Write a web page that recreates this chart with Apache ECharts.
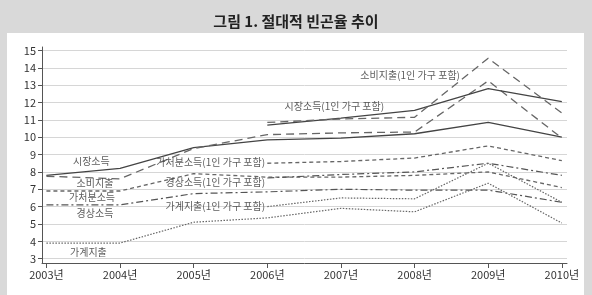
<!DOCTYPE html>
<html>
<head>
<meta charset="utf-8">
<script src="https://cdn.jsdelivr.net/npm/echarts/dist/echarts.min.js"></script>
<style>
  html, body { margin: 0; padding: 0; background: #d9d9d9; }
  #chart { width: 592px; height: 295px; }
</style>
</head>
<body>
<div id="chart"></div>
<script>
// years
const years = [2003, 2004, 2005, 2006, 2007, 2008, 2009, 2010];
const years1p = [2006, 2007, 2008, 2009, 2010];
const yTicks = [3, 4, 5, 6, 7, 8, 9, 10, 11, 12, 13, 14, 15];

// 빈곤율 (%) - 1인 가구 제외
const market = [7.8, 8.2, 9.4, 9.85, 9.95, 10.2, 10.85, 10.0];
const consumption = [7.75, 7.6, 9.35, 10.15, 10.25, 10.3, 13.25, 9.95];
const disposable = [6.9, 6.9, 7.9, 7.7, 7.7, 7.8, 8.0, 7.1];
const current = [6.1, 6.1, 6.75, 6.85, 7.0, 6.95, 6.95, 6.25];
const household = [3.9, 3.9, 5.1, 5.35, 5.9, 5.7, 7.35, 5.05];

// 1인 가구 포함
const market1p = [10.7, 11.1, 11.55, 12.8, 12.05];
const consumption1p = [10.85, 11.05, 11.15, 14.55, 11.4];
const disposable1p = [8.5, 8.6, 8.8, 9.5, 8.65];
const current1p = [7.65, 7.85, 8.0, 8.5, 7.8];
const household1p = [6.0, 6.5, 6.45, 8.5, 6.25];

// in-chart labels: [text, x, y, align]
const notes = [
  ['소비지출(1인 가구 포함)', 2007.94, 13.6, 'center'],
  ['시장소득(1인 가구 포함)', 2006.91, 11.79, 'center'],
  ['시장소득', 2003.61, 8.64, 'center'],
  ['가처분소득(1인 가구 포함)', 2005.97, 8.54, 'right'],
  ['소비지출', 2003.66, 7.33, 'center'],
  ['경상소득(1인 가구 포함)', 2005.97, 7.39, 'right'],
  ['가처분소득', 2003.62, 6.52, 'center'],
  ['가계지출(1인 가구 포함)', 2005.97, 6.04, 'right'],
  ['경상소득', 2003.66, 5.6, 'center'],
  ['가계지출', 2003.57, 3.38, 'center']
];

const font = '"Noto Sans CJK KR", "Noto Sans", sans-serif';
const zip = (xs, ys) => xs.map((x, i) => [x, ys[i]]);

const lineSeries = (name, xs, ys, color, type, width) => ({
  name,
  type: 'line',
  data: zip(xs, ys),
  symbol: 'none',
  silent: true,
  lineStyle: { color, type, width, cap: 'butt' }
});

const solid = 'solid';
const longDash = [8, 5];
const shortDash = [4, 3];
const dashDot = [7, 3, 2, 3];
const dot = [1.5, 1.5];

const myChart = echarts.init(document.getElementById('chart'));

const option = {
  backgroundColor: '#d9d9d9',
  animation: false,
  textStyle: { fontFamily: font },
  title: {
    text: '그림 1. 절대적 빈곤율 추이',
    left: 'center',
    top: 9,
    textStyle: { fontSize: 15, fontWeight: 'bold', color: '#222', fontFamily: font }
  },
  graphic: [{
    type: 'rect',
    z: -10,
    shape: { x: 7, y: 33, width: 577, height: 262 },
    style: { fill: '#fff' }
  }],
  grid: { left: 42, right: 25, top: 47, bottom: 32 },
  xAxis: {
    type: 'value',
    min: 2002.94,
    max: 2010.07,
    axisLine: { lineStyle: { color: '#555' } },
    axisTick: { customValues: years, length: 5, lineStyle: { color: '#555' } },
    axisLabel: {
      customValues: years,
      formatter: (v) => v + '년',
      color: '#333',
      fontSize: 11,
      margin: 6
    },
    splitLine: { show: false }
  },
  yAxis: {
    type: 'value',
    min: 2.75,
    max: 15.2,
    axisLine: { show: true, lineStyle: { color: '#555' } },
    axisTick: { show: true, customValues: yTicks, length: 4, lineStyle: { color: '#555' } },
    axisLabel: { customValues: yTicks, color: '#333', fontSize: 11, margin: 6 },
    splitLine: { show: true, lineStyle: { color: '#d6d6d6', width: 1 } }
  },
  series: [
    lineSeries('시장소득', years, market, '#444', solid, 1.3),
    lineSeries('소비지출', years, consumption, '#666', longDash, 1.3),
    lineSeries('가처분소득', years, disposable, '#666', shortDash, 1.3),
    lineSeries('경상소득', years, current, '#555', dashDot, 1.2),
    lineSeries('가계지출', years, household, '#666', dot, 1.2),
    lineSeries('시장소득(1인 가구 포함)', years1p, market1p, '#444', solid, 1.3),
    lineSeries('소비지출(1인 가구 포함)', years1p, consumption1p, '#666', longDash, 1.3),
    lineSeries('가처분소득(1인 가구 포함)', years1p, disposable1p, '#666', shortDash, 1.3),
    lineSeries('경상소득(1인 가구 포함)', years1p, current1p, '#555', dashDot, 1.2),
    lineSeries('가계지출(1인 가구 포함)', years1p, household1p, '#666', dot, 1.2),
    {
      name: 'notes',
      type: 'scatter',
      symbolSize: 0,
      silent: true,
      z: 5,
      data: notes.map(([text, x, y, align]) => ({
        value: [x, y],
        label: {
          show: true,
          position: 'inside',
          formatter: text,
          align,
          verticalAlign: 'middle',
          color: '#333',
          fontSize: 10,
          fontFamily: font
        }
      }))
    }
  ]
};

myChart.setOption(option);
</script>
</body>
</html>
